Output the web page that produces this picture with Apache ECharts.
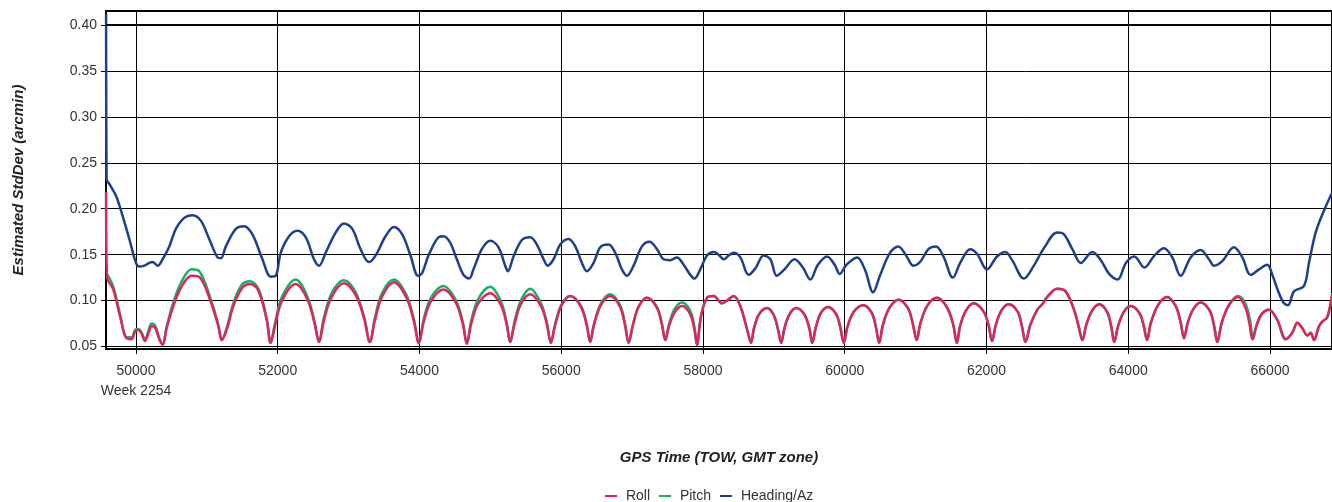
<!DOCTYPE html>
<html>
<head>
<meta charset="utf-8">
<script src="https://cdn.jsdelivr.net/npm/echarts@6/dist/echarts.min.js"></script>
<style>
html,body{margin:0;padding:0;background:#fff;}
#chart{width:1332px;height:502px;}
</style>
</head>
<body>
<div id="chart"></div>
<script>
// ---- data (GPS TOW seconds, StdDev arcmin) ----
var seriesNames = ['Roll', 'Pitch', 'Heading/Az'];
var xTickFirstSub = 'Week 2254';

var roll = [
[49578,0.218],[49590,0.126],[49680,0.112],[49774,0.083],[49868,0.059],[49939,0.058],[49986,0.066],[50033,0.068],[50080,0.064],[50127,0.056],
[50174,0.064],[50221,0.072],[50268,0.071],[50329,0.058],[50376,0.052],[50433,0.070],[50527,0.094],[50645,0.1155],[50785,0.127],[50903,0.125],
[51044,0.101],[51162,0.072],[51210,0.057],[51279,0.068],[51373,0.094],[51491,0.113],[51608,0.118],[51726,0.111],[51844,0.079],[51900,0.054],
[51960,0.072],[52060,0.100],[52254,0.118],[52420,0.101],[52520,0.075],[52582,0.055],[52650,0.078],[52760,0.104],[52934,0.119],[53100,0.106],
[53220,0.080],[53300,0.055],[53370,0.078],[53470,0.104],[53639,0.120],[53810,0.104],[53920,0.078],[53991,0.054],[54060,0.077],[54160,0.099],
[54339,0.112],[54510,0.098],[54610,0.075],[54668,0.053],[54730,0.075],[54830,0.097],[54998,0.108],[55150,0.095],[55230,0.074],[55280,0.055],
[55340,0.074],[55430,0.096],[55562,0.107],[55720,0.093],[55800,0.073],[55854,0.054],[55910,0.072],[56000,0.094],[56127,0.105],[56280,0.093],
[56360,0.073],[56409,0.055],[56460,0.073],[56560,0.095],[56692,0.105],[56830,0.093],[56900,0.073],[56951,0.054],[57010,0.073],[57090,0.093],
[57209,0.103],[57350,0.092],[57420,0.074],[57468,0.057],[57520,0.072],[57600,0.087],[57704,0.094],[57820,0.085],[57880,0.068],[57915,0.052],
[57972,0.083],[58056,0.103],[58151,0.105],[58268,0.097],[58339,0.100],[58433,0.105],[58527,0.094],[58621,0.069],[58678,0.054],[58720,0.070],
[58790,0.085],[58904,0.092],[59000,0.084],[59060,0.068],[59103,0.054],[59150,0.070],[59220,0.085],[59315,0.092],[59430,0.085],[59500,0.070],
[59542,0.054],[59590,0.070],[59660,0.086],[59764,0.093],[59880,0.085],[59940,0.070],[59986,0.054],[60040,0.072],[60130,0.088],[60260,0.095],
[60380,0.087],[60440,0.071],[60486,0.054],[60540,0.074],[60630,0.092],[60756,0.101],[60890,0.092],[60960,0.075],[61015,0.057],[61070,0.076],
[61170,0.095],[61299,0.103],[61440,0.093],[61530,0.074],[61582,0.054],[61630,0.073],[61710,0.089],[61818,0.097],[61960,0.088],[62030,0.073],
[62078,0.056],[62130,0.073],[62210,0.089],[62314,0.096],[62440,0.088],[62500,0.072],[62550,0.055],[62620,0.074],[62716,0.090],[62787,0.096],
[62857,0.104],[62999,0.113],[63117,0.110],[63235,0.090],[63300,0.072],[63353,0.057],[63410,0.074],[63490,0.089],[63589,0.096],[63700,0.088],
[63760,0.072],[63802,0.055],[63860,0.073],[63940,0.088],[64038,0.094],[64160,0.086],[64220,0.072],[64265,0.057],[64320,0.076],[64420,0.095],
[64545,0.104],[64670,0.094],[64740,0.076],[64787,0.059],[64840,0.076],[64920,0.091],[65022,0.098],[65150,0.089],[65210,0.073],[65257,0.055],
[65320,0.076],[65420,0.095],[65549,0.104],[65650,0.093],[65710,0.075],[65751,0.058],[65810,0.073],[65880,0.085],[65986,0.090],[66103,0.079],
[66221,0.058],[66315,0.065],[66386,0.076],[66456,0.070],[66527,0.062],[66574,0.065],[66621,0.057],[66691,0.072],[66738,0.077],[66809,0.082],
[66880,0.108]
];

var pitch = [
[49590,0.129],[49680,0.115],[49774,0.086],[49868,0.060],[49939,0.060],[49986,0.068],[50033,0.069],[50080,0.065],[50127,0.057],
[50174,0.067],[50221,0.075],[50268,0.073],[50329,0.059],[50376,0.052],[50433,0.072],[50527,0.098],[50645,0.121],[50785,0.134],[50903,0.131],
[51044,0.104],[51162,0.074],[51210,0.057],[51279,0.070],[51373,0.097],[51491,0.117],[51608,0.121],[51726,0.113],[51844,0.081],[51900,0.054],
[51960,0.075],[52060,0.104],[52254,0.123],[52420,0.104],[52520,0.077],[52582,0.055],[52650,0.081],[52760,0.108],[52934,0.122],[53100,0.109],
[53220,0.082],[53300,0.055],[53370,0.081],[53470,0.108],[53639,0.123],[53810,0.107],[53920,0.080],[53991,0.054],[54060,0.080],[54160,0.103],
[54339,0.116],[54510,0.101],[54610,0.077],[54668,0.053],[54730,0.078],[54830,0.102],[54998,0.115],[55150,0.099],[55230,0.076],[55280,0.055],
[55340,0.077],[55430,0.100],[55562,0.113],[55720,0.096],[55800,0.075],[55854,0.054],[55910,0.073],[56000,0.095],[56127,0.105],[56280,0.094],
[56360,0.074],[56409,0.055],[56460,0.074],[56560,0.097],[56692,0.107],[56830,0.095],[56900,0.075],[56951,0.054],[57010,0.073],[57090,0.093],
[57209,0.103],[57350,0.093],[57420,0.075],[57468,0.057],[57520,0.074],[57600,0.091],[57704,0.098],[57820,0.089],[57880,0.071],[57915,0.052],
[57972,0.083],[58056,0.103],[58151,0.105],[58268,0.097],[58339,0.100],[58433,0.105],[58527,0.094],[58621,0.069],[58678,0.054],[58720,0.070],
[58790,0.085],[58904,0.092],[59000,0.084],[59060,0.068],[59103,0.054],[59150,0.070],[59220,0.085],[59315,0.092],[59430,0.085],[59500,0.070],
[59542,0.054],[59590,0.070],[59660,0.086],[59764,0.093],[59880,0.085],[59940,0.070],[59986,0.054],[60040,0.072],[60130,0.088],[60260,0.095],
[60380,0.087],[60440,0.071],[60486,0.054],[60540,0.074],[60630,0.092],[60756,0.101],[60890,0.092],[60960,0.075],[61015,0.057],[61070,0.076],
[61170,0.095],[61299,0.103],[61440,0.093],[61530,0.074],[61582,0.054],[61630,0.073],[61710,0.089],[61818,0.097],[61960,0.088],[62030,0.073],
[62078,0.056],[62130,0.073],[62210,0.089],[62314,0.096],[62440,0.088],[62500,0.072],[62550,0.055],[62620,0.074],[62716,0.090],[62787,0.096],
[62857,0.104],[62999,0.113],[63117,0.110],[63235,0.090],[63300,0.072],[63353,0.057],[63410,0.074],[63490,0.089],[63589,0.096],[63700,0.088],
[63760,0.072],[63802,0.055],[63860,0.073],[63940,0.088],[64038,0.094],[64160,0.086],[64220,0.072],[64265,0.057],[64320,0.076],[64420,0.095],
[64545,0.104],[64670,0.094],[64740,0.076],[64787,0.059],[64840,0.076],[64920,0.091],[65022,0.098],[65150,0.089],[65210,0.073],[65257,0.055],
[65320,0.076],[65420,0.095],[65549,0.105],[65650,0.097],[65720,0.078],[65760,0.058],[65810,0.073],[65880,0.085],[65986,0.090],[66103,0.079],
[66221,0.058],[66315,0.065],[66386,0.076],[66456,0.070],[66527,0.062],[66574,0.065],[66621,0.057],[66691,0.072],[66738,0.077],[66809,0.082],
[66880,0.108]
];

var heading = [
[49578,0.412],[49585,0.232],[49624,0.227],[49718,0.214],[49812,0.192],[49906,0.167],[50000,0.141],[50047,0.137],[50117,0.138],[50188,0.141],
[50235,0.142],[50305,0.138],[50376,0.145],[50470,0.159],[50563,0.178],[50681,0.190],[50798,0.193],[50915,0.187],[51033,0.167],[51150,0.147],
[51197,0.146],[51268,0.159],[51409,0.178],[51526,0.181],[51643,0.172],[51784,0.145],[51901,0.126],[51972,0.127],[52042,0.152],[52160,0.170],
[52277,0.176],[52394,0.169],[52512,0.145],[52582,0.138],[52676,0.152],[52817,0.174],[52934,0.184],[53052,0.178],[53169,0.156],[53287,0.142],
[53380,0.149],[53521,0.170],[53639,0.180],[53756,0.172],[53873,0.149],[53981,0.127],[54038,0.130],[54132,0.150],[54272,0.169],[54339,0.170],
[54433,0.163],[54527,0.145],[54621,0.128],[54701,0.124],[54762,0.134],[54880,0.156],[54998,0.165],[55115,0.158],[55209,0.138],[55247,0.132],
[55327,0.148],[55445,0.166],[55562,0.169],[55656,0.161],[55751,0.145],[55807,0.138],[55892,0.145],[55986,0.161],[56104,0.167],[56198,0.159],
[56292,0.141],[56362,0.132],[56456,0.141],[56551,0.158],[56668,0.161],[56762,0.152],[56856,0.134],[56927,0.127],[57021,0.138],[57139,0.159],
[57247,0.164],[57351,0.156],[57445,0.145],[57539,0.144],[57633,0.147],[57727,0.139],[57821,0.128],[57878,0.124],[57962,0.134],[58056,0.149],
[58151,0.153],[58221,0.150],[58292,0.145],[58362,0.149],[58433,0.152],[58527,0.147],[58645,0.128],[58739,0.135],[58857,0.149],[58951,0.145],
[59041,0.127],[59150,0.134],[59292,0.145],[59410,0.136],[59514,0.123],[59622,0.139],[59750,0.148],[59858,0.139],[59929,0.129],[60024,0.139],
[60175,0.147],[60283,0.134],[60401,0.109],[60496,0.127],[60638,0.152],[60756,0.159],[60874,0.148],[60968,0.138],[61063,0.142],[61181,0.156],
[61289,0.159],[61393,0.148],[61526,0.125],[61629,0.141],[61771,0.156],[61866,0.151],[62007,0.134],[62149,0.148],[62267,0.153],[62362,0.144],
[62527,0.124],[62668,0.138],[62810,0.157],[62999,0.174],[63093,0.172],[63212,0.156],[63330,0.141],[63495,0.153],[63613,0.144],[63731,0.129],
[63849,0.123],[63967,0.141],[64085,0.148],[64227,0.136],[64369,0.149],[64504,0.157],[64622,0.147],[64740,0.127],[64881,0.147],[65022,0.155],
[65139,0.145],[65210,0.138],[65327,0.143],[65492,0.158],[65610,0.147],[65727,0.128],[65845,0.134],[65962,0.139],[66033,0.128],[66127,0.108],
[66198,0.097],[66254,0.095],[66339,0.110],[66480,0.116],[66550,0.141],[66644,0.174],[66762,0.198],[66880,0.218]
];

var colors = {roll:'#e0245c', pitch:'#1cad5e', heading:'#1d3f8e'};

var chart = echarts.init(document.getElementById('chart'), null, {renderer:'canvas'});
var font = 'Arial, "Liberation Sans", sans-serif';
chart.setOption({
  animation: false,
  backgroundColor: '#fff',
  textStyle: {fontFamily: font},
  grid: {left: 106, right: 0, top: 11, bottom: 153, show: true, borderColor: '#000', borderWidth: 2, containLabel: false},
  legend: {
    left: 600, top: 484,
    icon: 'rect', itemWidth: 12, itemHeight: 2, itemGap: 9,
    data: seriesNames,
    formatter: function(n){ return ' ' + n; },
    textStyle: {color: '#333', fontSize: 14, fontFamily: font}
  },
  xAxis: {
    type: 'value', min: 49577, max: 66875, splitNumber: 8,
    name: 'GPS Time (TOW, GMT zone)', nameLocation: 'middle', nameGap: 101,
    nameTextStyle: {fontSize: 15, fontWeight: 'bold', fontStyle: 'italic', color: '#222', fontFamily: font},
    axisLine: {show: true, lineStyle: {color: '#000', width: 2}},
    axisTick: {show: true, length: 5, lineStyle: {color: '#000', width: 1}},
    splitLine: {show: true, lineStyle: {color: '#000', width: 1}},
    axisLabel: {
      color: '#333', fontSize: 14, margin: 12, lineHeight: 20, showMinLabel: false, showMaxLabel: false,
      formatter: function(v){ return v === 50000 ? v + '\n' + xTickFirstSub : String(v); }
    }
  },
  yAxis: {
    type: 'value', min: 0.0473, max: 0.4152, splitNumber: 7,
    name: 'Estimated StdDev (arcmin)', nameLocation: 'middle', nameGap: 80,
    nameTextStyle: {fontSize: 15, fontWeight: 'bold', fontStyle: 'italic', color: '#222', fontFamily: font},
    axisLine: {show: true, lineStyle: {color: '#000', width: 2}},
    axisTick: {show: true, length: 5, lineStyle: {color: '#000', width: 1}},
    splitLine: {show: true, lineStyle: {color: '#000', width: 1}},
    axisLabel: {color: '#333', fontSize: 14, margin: 9, showMinLabel: false, showMaxLabel: false,
      formatter: function(v){ return v.toFixed(2); }}
  },
  series: [
    {name: 'Pitch', type: 'line', data: pitch, showSymbol: false, symbol: 'none', smooth: 0.35,
     lineStyle: {color: colors.pitch, width: 2.5}, itemStyle: {color: colors.pitch}},
    {name: 'Roll', type: 'line', data: roll, showSymbol: false, symbol: 'none', smooth: 0.35,
     lineStyle: {color: colors.roll, width: 2.5}, itemStyle: {color: colors.roll}},
    {name: 'Heading/Az', type: 'line', data: heading, showSymbol: false, symbol: 'none', smooth: 0.35,
     lineStyle: {color: colors.heading, width: 2.5}, itemStyle: {color: colors.heading},
     markLine: {silent: true, symbol: 'none', label: {show: false},
       lineStyle: {color: '#000', width: 2, type: 'solid'}, data: [{yAxis: 0.4047}]}}
  ]
});
</script>
</body>
</html>
